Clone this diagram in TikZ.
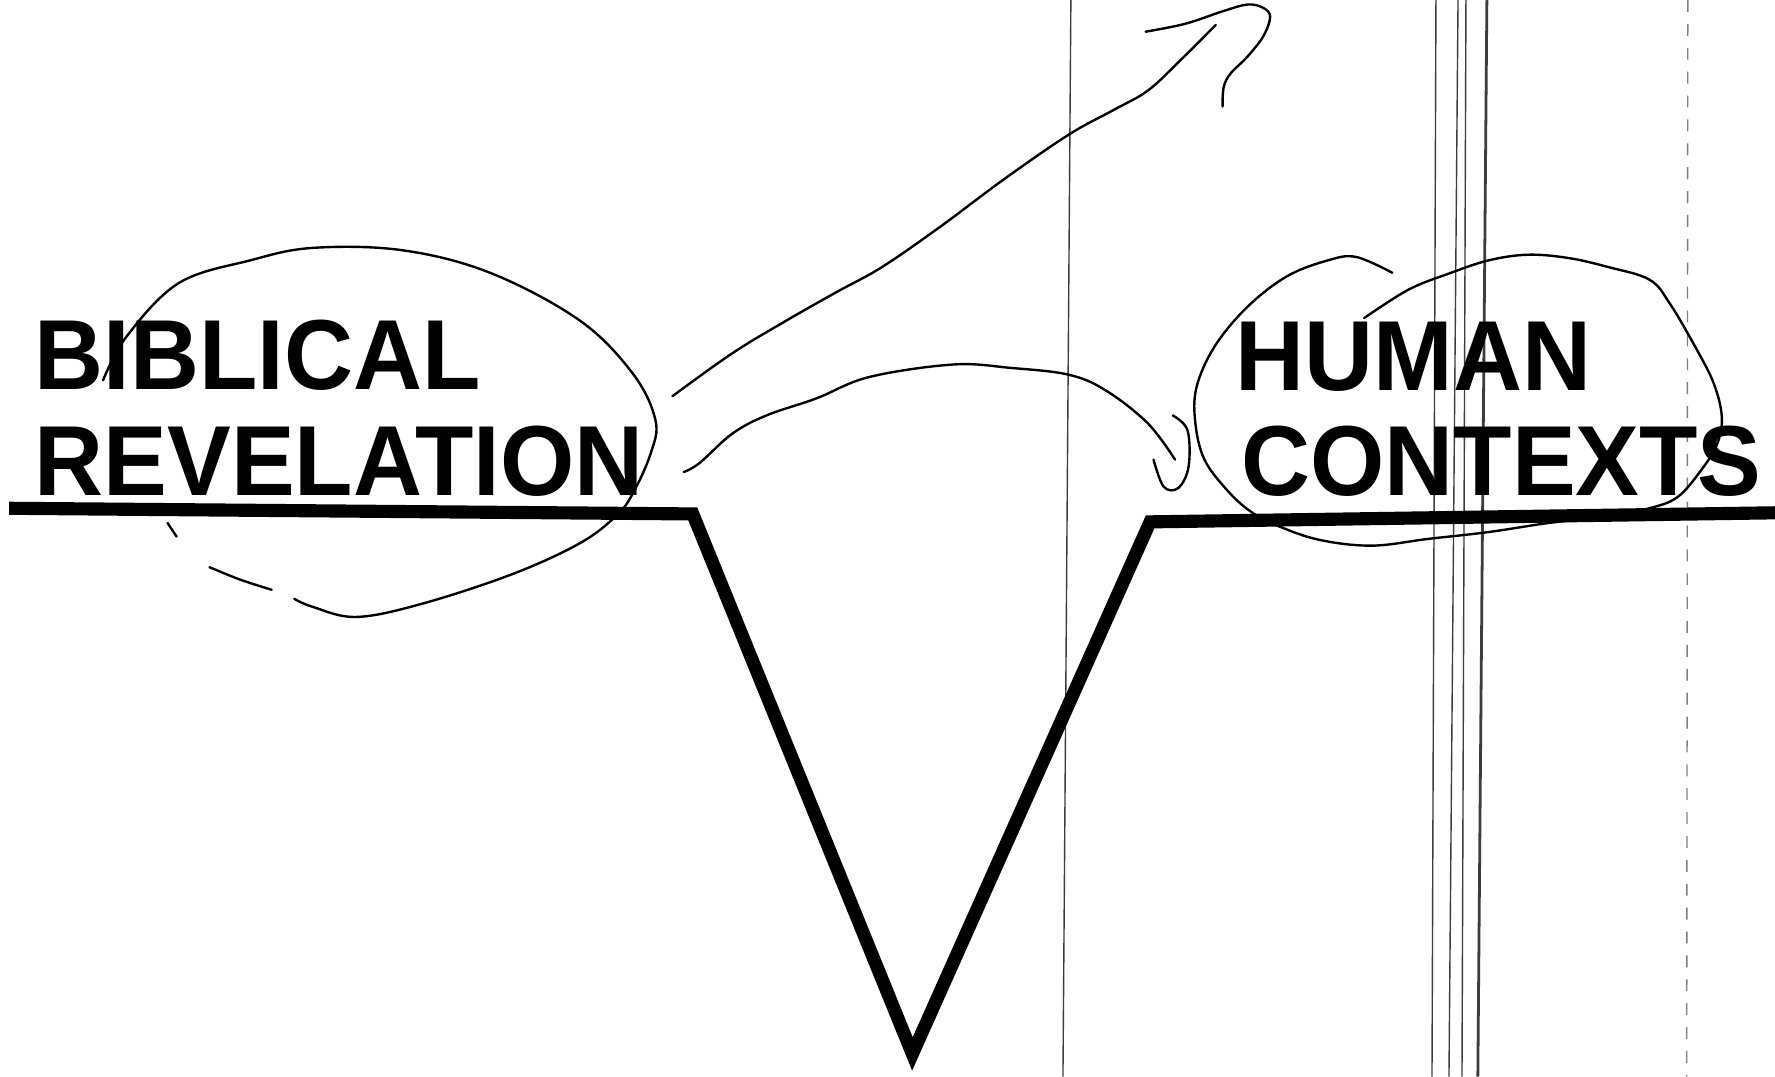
\documentclass[tikz,border=0pt]{standalone}
\usepackage{fontspec}
\setsansfont{Liberation Sans}[FakeStretch=0.96]
\usepackage{xcolor}
\usepackage{tikz}
\definecolor{scan}{HTML}{3C3C3C}
\tikzset{
  heading/.style={font=\sffamily\bfseries\fontsize{25}{29}\selectfont, anchor=base west, inner sep=0pt},
  ground/.style={line width=3.3pt, line join=miter, miter limit=10},
  pen/.style={line width=0.6pt, line cap=round, line join=round},
  scanline/.style={draw=scan, line width=0.35pt},
}

\begin{document}
\begin{tikzpicture}[x=0.01cm, y=-0.01cm]
  \useasboundingbox (0,0) rectangle (1568,951);

  % scanner streaks
  \draw[scanline] (946,0) -- (939,951);
  \draw[scanline] (1268.5,0) -- (1265,951);
  \draw[scanline] (1288,0) -- (1280,951);
  \draw[scanline] (1295,0) -- (1291.5,951);
  \draw[scanline, line width=0.7pt] (1313.5,0) -- (1305.5,951);
  \draw[scanline, draw=gray, dashed] (1491,0) -- (1490,951);

  \node[heading] (bib) at (30,344) {BIBLICAL};
  \node[heading] (rev) at (30,438) {REVELATION};
  \node[heading] (hum) at (1091,345) {HUMAN};
  \node[heading] (ctx) at (1096,438) {CONTEXTS};

  \coordinate (gapl) at (612,454);
  \coordinate (gapb) at (806,931);
  \coordinate (gapr) at (1016,461);
  \draw[ground] (8,449) -- (gapl) -- (gapb) -- (gapr) -- (1568,453);

  % loop round the left words
  \draw[pen] plot[smooth, tension=0.6] coordinates {(91,336) (112,297) (158,250) (221,230) (276,219) (355,221) (433,241) (512,283) (559,330) (579,371) (575,400) (559,436) (544,456) (512,480) (453,507) (374,533) (315,545) (276,536) (260,529)};
  \draw[pen] plot[smooth] coordinates {(240,521) (212,512) (185,501)};
  \draw[pen] (148,462) -- (156,474);

  % loop round the right words
  \draw[pen] plot[smooth, tension=0.6] coordinates {(1230,241) (1198,227) (1173,230) (1137,244) (1102,271) (1073,306) (1057,342) (1056,374) (1064,406) (1084,433) (1105,452) (1130,465) (1166,477) (1212,482) (1262,476) (1315,470) (1368,462) (1421,456) (1457,449) (1482,439) (1503,415) (1517,392) (1521,368) (1514,339) (1499,309) (1475,268) (1457,247) (1421,236) (1386,228) (1350,225) (1315,230) (1279,242) (1244,256) (1205,281)};

  % arrow off the page
  \draw[pen] plot[smooth, tension=0.6] coordinates {(594,350) (647,312) (695,283) (739,258) (779,236) (831,200) (886,159) (944,119) (984,97) (1014,80) (1043,53) (1074,22)};
  \draw[pen] plot[smooth, tension=0.6] coordinates {(1012,28) (1047,21) (1080,10) (1102,4) (1116,7) (1122,15) (1116,32) (1102,50) (1087,65) (1081,77) (1080,94)};

  % arrow across the gap
  \draw[pen] plot[smooth, tension=0.6] coordinates {(604,417) (618,409) (647,383) (677,367) (721,352) (768,333) (842,322) (893,325) (944,331) (977,345) (1014,374) (1038,406)};
  \draw[pen] plot[smooth, tension=0.6] coordinates {(1036,367) (1049,380) (1050,412) (1041,431) (1028,430) (1019,406)};
\end{tikzpicture}
\end{document}
